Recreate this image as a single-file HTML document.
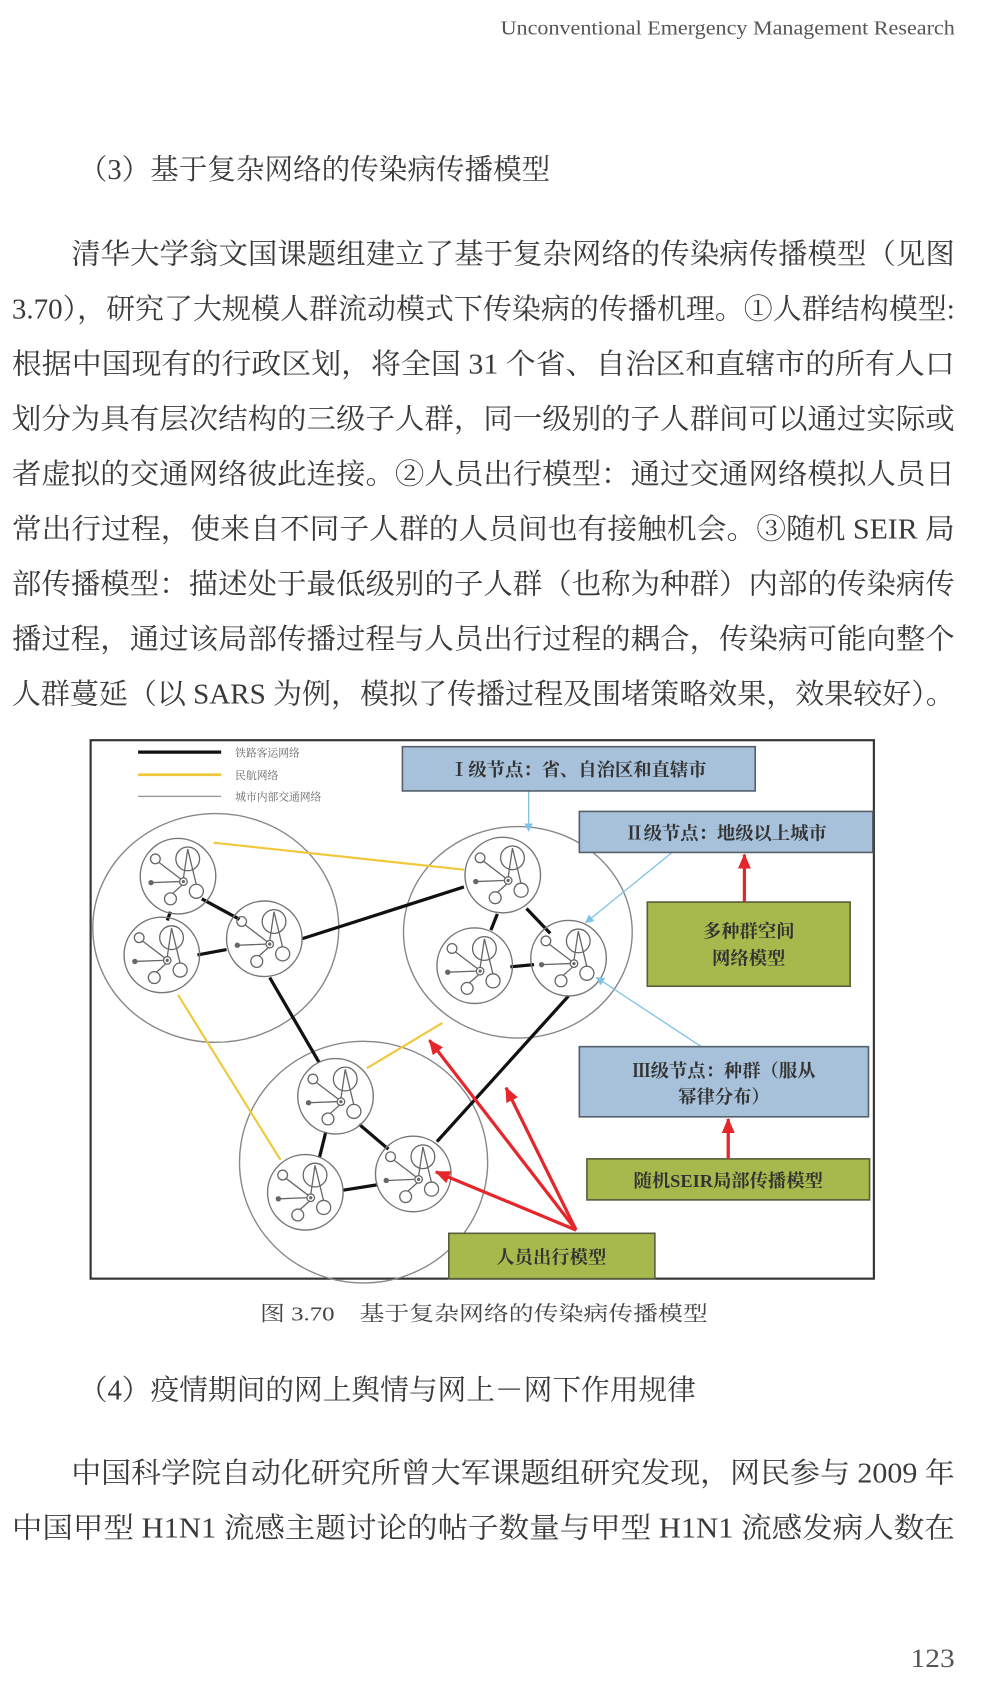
<!DOCTYPE html>
<html><head><meta charset="utf-8"><style>
html,body{margin:0;padding:0;background:#fff;}
svg{display:block;}
.b{font-family:"Liberation Serif","Noto Serif CJK SC",serif;fill:#3a3a3a;font-size:26.4px;}
.f{font-family:"Liberation Serif","Noto Serif CJK SC",serif;font-weight:bold;fill:#333;}
</style></head><body>
<svg width="985" height="1693" viewBox="0 0 913 1569" preserveAspectRatio="none" xmlns="http://www.w3.org/2000/svg">
<defs>
<g id="n">
<circle r="35" fill="none" stroke="#777" stroke-width="1.3"/>
<g fill="none" stroke="#666" stroke-width="1.2">
<circle cx="-21" cy="-16" r="4.5"/>
<circle cx="9" cy="-16" r="11"/>
<circle cx="5" cy="5" r="3.5"/>
<circle cx="-7" cy="21" r="5.5"/>
<circle cx="17" cy="14" r="6.5"/>
<path d="M-18,-13 L3,3 M-25,6 L1,5 M4,8 L-5,16 M9,-25 L5,2 M9,-25 L17,8"/>
</g>
<circle cx="-25" cy="6" r="2.5" fill="#666"/>
<circle cx="5" cy="5" r="1.5" fill="#666"/>
</g>
<marker id="rb" markerWidth="8" markerHeight="8" refX="7" refY="4" orient="auto" markerUnits="userSpaceOnUse"><path d="M0,0 L8,4 L0,8 Z" fill="#7fc3e6"/></marker>
<marker id="rr" markerWidth="14" markerHeight="12" refX="13" refY="6" orient="auto" markerUnits="userSpaceOnUse"><path d="M0,0 L14,6 L0,12 Z" fill="#e5262b"/></marker>
</defs>

<text x="464" y="32" font-family="Liberation Serif,serif" font-size="19" fill="#555" textLength="421" lengthAdjust="spacingAndGlyphs">Unconventional Emergency Management Research</text>

<text class="b" x="73" y="166" textLength="437" lengthAdjust="spacingAndGlyphs">（3）基于复杂网络的传染病传播模型</text>

<text class="b" x="66" y="244" textLength="819" lengthAdjust="spacingAndGlyphs">清华大学翁文国课题组建立了基于复杂网络的传染病传播模型（见图</text>
<text class="b" x="11" y="295" textLength="874" lengthAdjust="spacingAndGlyphs">3.70），研究了大规模人群流动模式下传染病的传播机理。①人群结构模型:</text>
<text class="b" x="11" y="346" textLength="874" lengthAdjust="spacingAndGlyphs">根据中国现有的行政区划，将全国 31 个省、自治区和直辖市的所有人口</text>
<text class="b" x="11" y="397" textLength="874" lengthAdjust="spacingAndGlyphs">划分为具有层次结构的三级子人群，同一级别的子人群间可以通过实际或</text>
<text class="b" x="11" y="448" textLength="874" lengthAdjust="spacingAndGlyphs">者虚拟的交通网络彼此连接。②人员出行模型：通过交通网络模拟人员日</text>
<text class="b" x="11" y="499" textLength="874" lengthAdjust="spacingAndGlyphs">常出行过程，使来自不同子人群的人员间也有接触机会。③随机 SEIR 局</text>
<text class="b" x="11" y="550" textLength="874" lengthAdjust="spacingAndGlyphs">部传播模型：描述处于最低级别的子人群（也称为种群）内部的传染病传</text>
<text class="b" x="11" y="601" textLength="874" lengthAdjust="spacingAndGlyphs">播过程，通过该局部传播过程与人员出行过程的耦合，传染病可能向整个</text>
<text class="b" x="11" y="652" textLength="874" lengthAdjust="spacingAndGlyphs">人群蔓延（以 SARS 为例，模拟了传播过程及围堵策略效果，效果较好）。</text>

<!-- figure -->
<rect x="84" y="686" width="726" height="499" fill="#fff" stroke="#333" stroke-width="2"/>
<line x1="128" y1="697" x2="205" y2="697" stroke="#111" stroke-width="3"/>
<line x1="128" y1="718" x2="205" y2="718" stroke="#f0c83a" stroke-width="2.5"/>
<line x1="128" y1="738" x2="205" y2="738" stroke="#888" stroke-width="1"/>
<text x="218" y="701" font-size="10" fill="#666" font-family="Liberation Serif,Noto Serif CJK SC,serif">铁路客运网络</text>
<text x="218" y="722" font-size="10" fill="#666" font-family="Liberation Serif,Noto Serif CJK SC,serif">民航网络</text>
<text x="218" y="742" font-size="10" fill="#666" font-family="Liberation Serif,Noto Serif CJK SC,serif">城市内部交通网络</text>

<g fill="none" stroke="#888" stroke-width="1.3">
<ellipse cx="200" cy="860" rx="114" ry="106"/>
<ellipse cx="480" cy="864" rx="106" ry="98"/>
<ellipse cx="337" cy="1077" rx="115" ry="112"/>
</g>

<g stroke="#111" stroke-width="3">
<line x1="158" y1="845" x2="155" y2="853"/>
<line x1="187" y1="833" x2="222" y2="852"/>
<line x1="183" y1="885" x2="210" y2="880"/>
<line x1="280" y1="870" x2="430" y2="822"/>
<line x1="461" y1="847" x2="455" y2="862"/>
<line x1="488" y1="842" x2="510" y2="865"/>
<line x1="473" y1="896" x2="495" y2="894"/>
<line x1="250" y1="906" x2="296" y2="985"/>
<line x1="302" y1="1049" x2="296" y2="1073"/>
<line x1="333" y1="1042" x2="360" y2="1065"/>
<line x1="318" y1="1103" x2="350" y2="1098"/>
<line x1="405" y1="1058" x2="527" y2="923"/>
</g>
<g stroke="#f0c83a" stroke-width="2">
<line x1="198" y1="781" x2="430" y2="806"/>
<line x1="165" y1="922" x2="260" y2="1075"/>
<line x1="340" y1="990" x2="410" y2="948"/>
</g>

<use href="#n" x="165" y="812"/>
<use href="#n" x="150" y="885"/>
<use href="#n" x="245" y="870"/>
<use href="#n" x="466" y="811"/>
<use href="#n" x="440" y="895"/>
<use href="#n" x="527" y="888"/>
<use href="#n" x="311" y="1016"/>
<use href="#n" x="283" y="1105"/>
<use href="#n" x="383" y="1088"/>

<g stroke="#7fc3e6" stroke-width="1.2" fill="none">
<line x1="490" y1="733" x2="490" y2="770" marker-end="url(#rb)"/>
<line x1="623" y1="790" x2="543" y2="855" marker-end="url(#rb)"/>
<line x1="650" y1="970" x2="553" y2="906" marker-end="url(#rb)"/>
</g>

<rect x="373" y="692" width="327" height="41" fill="#a7c1da" stroke="#55606a" stroke-width="1.5"/>
<text class="f" x="536" y="719" font-size="17" text-anchor="middle">Ⅰ级节点：省、自治区和直辖市</text>
<rect x="537" y="752" width="272" height="38" fill="#a7c1da" stroke="#55606a" stroke-width="1.5"/>
<text class="f" x="673" y="778" font-size="17" text-anchor="middle">Ⅱ级节点：地级以上城市</text>
<rect x="600" y="836" width="188" height="78" fill="#a7b94c" stroke="#55603a" stroke-width="1.5"/>
<text class="f" x="694" y="869" font-size="17" text-anchor="middle">多种群空间</text>
<text class="f" x="694" y="894" font-size="17" text-anchor="middle">网络模型</text>
<rect x="537" y="970" width="268" height="65" fill="#a7c1da" stroke="#55606a" stroke-width="1.5"/>
<text class="f" x="671" y="998" font-size="17" text-anchor="middle">Ⅲ级节点：种群（服从</text>
<text class="f" x="671" y="1022" font-size="17" text-anchor="middle">幂律分布）</text>
<rect x="544" y="1074" width="262" height="38" fill="#a7b94c" stroke="#55603a" stroke-width="1.5"/>
<text class="f" x="675" y="1100" font-size="17" text-anchor="middle">随机SEIR局部传播模型</text>
<rect x="416" y="1143" width="191" height="42" fill="#a7b94c" stroke="#55603a" stroke-width="1.5"/>
<text class="f" x="511" y="1171" font-size="17" text-anchor="middle">人员出行模型</text>

<g stroke="#e5262b" stroke-width="3" fill="none">
<line x1="690" y1="836" x2="690" y2="792" marker-end="url(#rr)"/>
<line x1="675" y1="1074" x2="675" y2="1037" marker-end="url(#rr)"/>
<line x1="534" y1="1140" x2="398" y2="964" marker-end="url(#rr)"/>
<line x1="534" y1="1140" x2="469" y2="1008" marker-end="url(#rr)"/>
<line x1="534" y1="1140" x2="404" y2="1086" marker-end="url(#rr)"/>
</g>

<text x="241" y="1224" font-family="Liberation Serif,Noto Serif CJK SC,serif" font-size="19" fill="#444" textLength="415" lengthAdjust="spacingAndGlyphs">图 3.70　基于复杂网络的传染病传播模型</text>

<text class="b" x="73" y="1297" textLength="572" lengthAdjust="spacingAndGlyphs">（4）疫情期间的网上舆情与网上－网下作用规律</text>
<text class="b" x="66" y="1374" textLength="819" lengthAdjust="spacingAndGlyphs">中国科学院自动化研究所曾大军课题组研究发现，网民参与 2009 年</text>
<text class="b" x="11" y="1425" textLength="874" lengthAdjust="spacingAndGlyphs">中国甲型 H1N1 流感主题讨论的帖子数量与甲型 H1N1 流感发病人数在</text>

<text x="844" y="1545" font-family="Liberation Serif,serif" font-size="24" fill="#555" textLength="41" lengthAdjust="spacingAndGlyphs">123</text>
</svg>
</body></html>
